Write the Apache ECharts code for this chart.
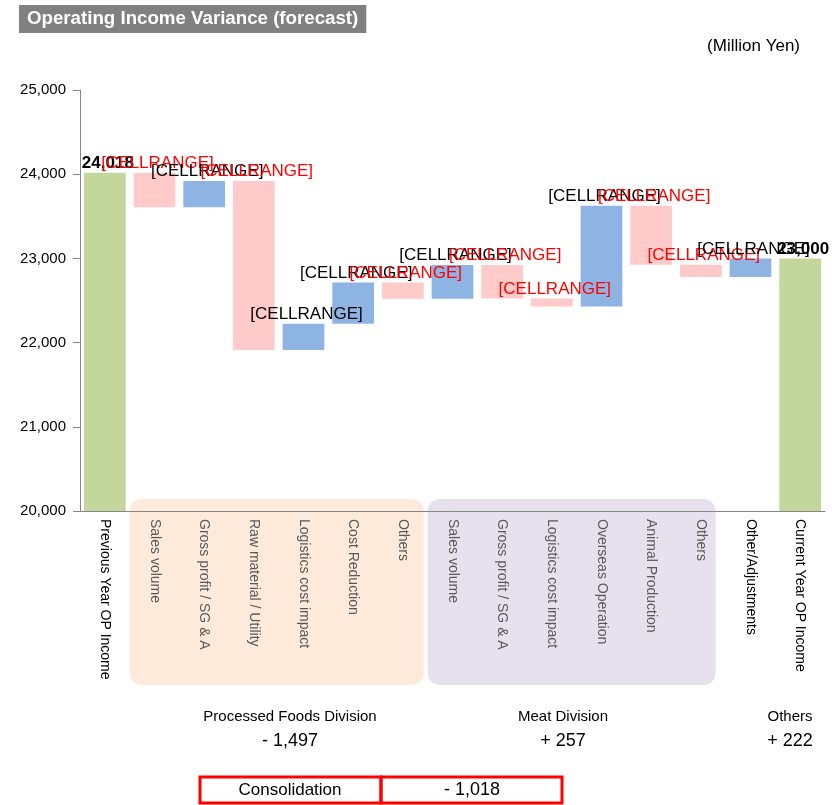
<!DOCTYPE html>
<html>
<head>
<meta charset="utf-8">
<script src="https://cdn.jsdelivr.net/npm/echarts@6/dist/echarts.min.js"></script>
<style>
  html, body { margin: 0; padding: 0; background: #fff; }
  #main { width: 832px; height: 805px; }
</style>
</head>
<body>
<div id="main"></div>
<script>
// chart data
var categories = [
  'Previous Year OP Income',
  'Sales volume', 'Gross profit / SG & A', 'Raw material / Utility',
  'Logistics cost impact', 'Cost Reduction', 'Others',
  'Sales volume', 'Gross profit / SG & A', 'Logistics cost impact',
  'Overseas Operation', 'Animal Production', 'Others',
  'Other/Adjustments',
  'Current Year OP Income'
]
var startValue = 24018
var endValue = 23000
var deltas = [-410, 310, -2005, 310, 490, -192, 400, -397, -95, 1195, -700, -146, 222]
var yTicks = [20000, 21000, 22000, 23000, 24000, 25000]

var divisionNames = ['Processed Foods Division', 'Meat Division', 'Others']
var divisionValues = [-1497, 257, 222]
var consolidationValue = -1018

var FONT = 'Liberation Sans, Arial, sans-serif'
var GREEN = '#c3d69b', BLUE = '#8eb4e3', PINK = '#ffcaca'

function fmt(v) { return v.toLocaleString('en-US') }
function signed(v) { return (v < 0 ? '- ' : '+ ') + fmt(Math.abs(v)) }

// build waterfall stacks
var base = [0]
var visible = [{ value: startValue, itemStyle: { color: GREEN },
  label: { formatter: fmt(startValue), fontWeight: 'bold' } }]
var run = startValue
deltas.forEach(function (d) {
  if (d >= 0) {
    base.push(run)
    visible.push({ value: d, itemStyle: { color: BLUE }, label: { formatter: '[CELLRANGE]', color: '#000' } })
  } else {
    base.push(run + d)
    visible.push({ value: -d, itemStyle: { color: PINK }, label: { formatter: '[CELLRANGE]', color: '#ff0000' } })
  }
  run += d
})
base.push(0)
visible.push({ value: endValue, itemStyle: { color: GREEN },
  label: { formatter: fmt(endValue), fontWeight: 'bold' } })

var catData = categories.map(function (c, i) {
  var inGroup = i > 0 && i < categories.length - 2
  return { value: c, textStyle: { color: inGroup ? '#595959' : '#000' } }
})

var chart = echarts.init(document.getElementById('main'))
var option = {
  animation: false,
  textStyle: { fontFamily: FONT },
  title: {
    text: 'Operating Income Variance (forecast)',
    left: 19, top: 5,
    backgroundColor: '#808080',
    padding: [4, 8, 4, 8],
    textStyle: { color: '#fff', fontSize: 18.7, fontWeight: 'bold', fontFamily: FONT, lineHeight: 20 }
  },
  grid: { left: 80, right: 7, top: 90, bottom: 294 },
  xAxis: {
    type: 'category',
    data: catData,
    axisLine: { lineStyle: { color: '#868686' } },
    axisTick: { length: 5, lineStyle: { color: '#868686' } },
    axisLabel: { rotate: -90, interval: 0, fontSize: 14, margin: 8, fontFamily: FONT },
    z: 5
  },
  yAxis: {
    type: 'value',
    min: yTicks[0], max: yTicks[yTicks.length - 1], interval: 1000,
    axisLine: { show: true, lineStyle: { color: '#868686' } },
    axisTick: { show: true, length: 7, lineStyle: { color: '#868686' } },
    splitLine: { show: false },
    axisLabel: { formatter: function (v) { return fmt(v) }, fontSize: 15, color: '#000', margin: 14, fontFamily: FONT }
  },
  series: [
    {
      type: 'bar', stack: 'w', data: base, silent: true,
      itemStyle: { color: 'transparent' }, barCategoryGap: '16%'
    },
    {
      type: 'bar', stack: 'w', data: visible, barCategoryGap: '16%',
      label: { show: true, position: 'top', distance: 1, offset: [3, 0], fontSize: 17, color: '#000', fontFamily: FONT }
    }
  ]
}
chart.setOption(option)

// shaded division boxes, located from the category axis
var step = chart.convertToPixel({ xAxisIndex: 0 }, 1) - chart.convertToPixel({ xAxisIndex: 0 }, 0)
function catLeft(i) { return chart.convertToPixel({ xAxisIndex: 0 }, i) - step / 2 }
function catRight(i) { return chart.convertToPixel({ xAxisIndex: 0 }, i) + step / 2 }

var boxTop = 499, boxBottom = 685
var graphics = [
  { type: 'rect', z: -10, shape: { x: catLeft(1), y: boxTop, width: catRight(6) - 4 - catLeft(1), height: boxBottom - boxTop, r: 12 },
    style: { fill: '#fdeadb' } },
  { type: 'rect', z: -10, shape: { x: catLeft(7), y: boxTop, width: catRight(12) - 10 - catLeft(7), height: boxBottom - boxTop, r: 12 },
    style: { fill: '#e6e1ed' } },
  { type: 'text', x: 800, y: 46, style: { text: '(Million Yen)', fill: '#000', font: '17px ' + FONT, textAlign: 'right', textVerticalAlign: 'middle' } }
]

var divCenters = [290, 563, 790]
divisionNames.forEach(function (n, i) {
  graphics.push({ type: 'text', x: divCenters[i], y: 717,
    style: { text: n, fill: '#000', font: '15px ' + FONT, textAlign: 'center', textVerticalAlign: 'middle' } })
  graphics.push({ type: 'text', x: divCenters[i], y: 741,
    style: { text: signed(divisionValues[i]), fill: '#000', font: '18px ' + FONT, textAlign: 'center', textVerticalAlign: 'middle' } })
})

graphics.push(
  { type: 'rect', shape: { x: 200, y: 777, width: 181, height: 26 }, style: { fill: 'none', stroke: '#ff0000', lineWidth: 3 } },
  { type: 'rect', shape: { x: 381, y: 777, width: 181, height: 26 }, style: { fill: 'none', stroke: '#ff0000', lineWidth: 3 } },
  { type: 'text', x: 290, y: 790, style: { text: 'Consolidation', fill: '#000', font: '17px ' + FONT, textAlign: 'center', textVerticalAlign: 'middle' } },
  { type: 'text', x: 472, y: 790, style: { text: signed(consolidationValue), fill: '#000', font: '18px ' + FONT, textAlign: 'center', textVerticalAlign: 'middle' } }
)

chart.setOption({ graphic: graphics })
</script>
</body>
</html>
